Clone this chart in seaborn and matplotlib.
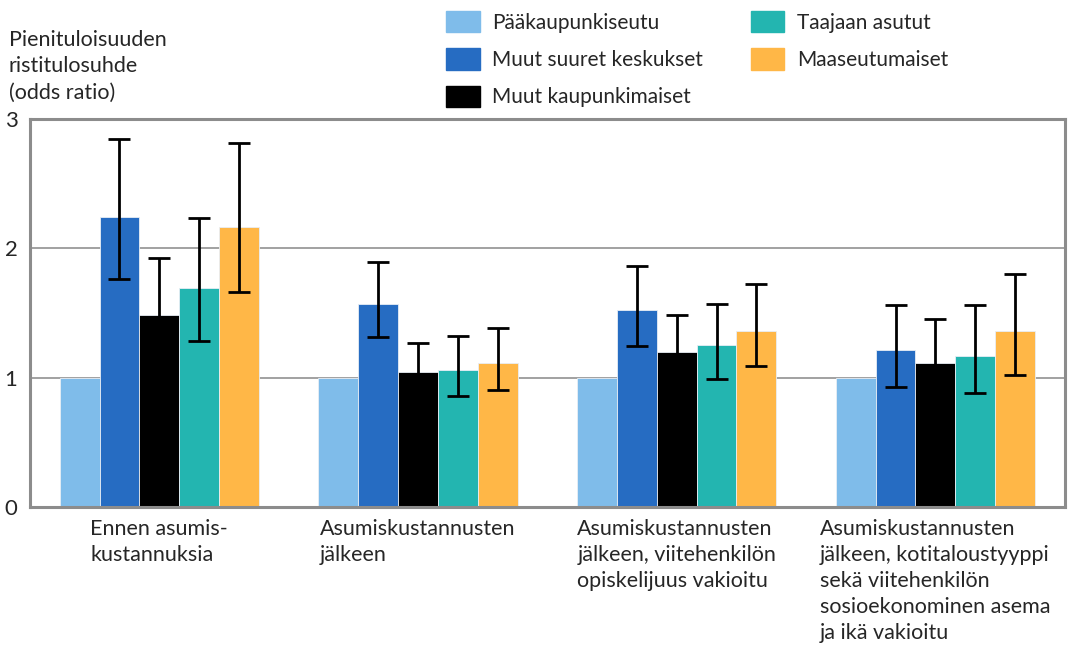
import pandas as pd
import numpy as np
import matplotlib
matplotlib.use("Agg")
import matplotlib.pyplot as plt
import seaborn as sns

sns.set_style("white")
plt.rcParams['font.family'] = ['Lato', 'DejaVu Sans']

# Ryhmät (x-akseli) ja sarjat
ryhmat = [
    "Ennen asumis-\nkustannuksia",
    "Asumiskustannusten\njälkeen",
    "Asumiskustannusten\njälkeen, viitehenkilön\nopiskelijuus vakioitu",
    "Asumiskustannusten\njälkeen, kotitaloustyyppi\nsekä viitehenkilön\nsosioekonominen asema\nja ikä vakioitu",
]
alueet = ["Pääkaupunkiseutu", "Muut suuret keskukset", "Muut kaupunkimaiset",
          "Taajaan asutut", "Maaseutumaiset"]
varit = ["#7fbcea", "#266cc2", "#000000", "#23b5b0", "#ffb747"]

# Ristitulosuhteet (odds ratio) per alue
or_pk = [1.0, 1.0, 1.0, 1.0]
or_suuret = [2.24, 1.57, 1.52, 1.21]
or_kaupunki = [1.48, 1.04, 1.20, 1.11]
or_taajaan = [1.69, 1.06, 1.25, 1.17]
or_maaseutu = [2.16, 1.11, 1.36, 1.36]

# Luottamusvälit (ala, ylä); pääkaupunkiseutu on vertailuryhmä
ala_suuret = [1.76, 1.31, 1.24, 0.93]
yla_suuret = [2.84, 1.89, 1.86, 1.56]
ala_kaupunki = [1.15, 0.86, 0.97, 0.85]
yla_kaupunki = [1.92, 1.27, 1.48, 1.45]
ala_taajaan = [1.28, 0.86, 0.99, 0.88]
yla_taajaan = [2.23, 1.32, 1.57, 1.56]
ala_maaseutu = [1.66, 0.90, 1.09, 1.02]
yla_maaseutu = [2.81, 1.38, 1.72, 1.80]

arvot = [or_pk, or_suuret, or_kaupunki, or_taajaan, or_maaseutu]
alat = [None, ala_suuret, ala_kaupunki, ala_taajaan, ala_maaseutu]
ylat = [None, yla_suuret, yla_kaupunki, yla_taajaan, yla_maaseutu]

df = pd.DataFrame([
    {"ryhma": r, "alue": a, "or": v}
    for a, vals in zip(alueet, arvot)
    for r, v in zip(ryhmat, vals)
])

fig = plt.figure(figsize=(10.69, 6.45), dpi=100)
ax = fig.add_axes([0.028, 0.214, 0.968, 0.602])

sns.barplot(data=df, x="ryhma", y="or", hue="alue", order=ryhmat,
            hue_order=alueet, palette=varit, width=0.77, errorbar=None,
            linewidth=0.6, edgecolor="#e8eef5", saturation=1, ax=ax, zorder=2)

# Virhepalkit
for cont, lo, hi, vals in zip(ax.containers, alat, ylat, arvot):
    if lo is None:
        continue
    xs = [p.get_x() + p.get_width() / 2 for p in cont.patches]
    vals = np.array(vals)
    yerr = [vals - np.array(lo), np.array(hi) - vals]
    ax.errorbar(xs, vals, yerr=yerr, fmt="none", ecolor="black",
                elinewidth=2, capsize=8, capthick=2, zorder=3)

ax.set_ylim(0, 3)
ax.set_xlim(-0.5, 3.5)
ax.set_yticks([0, 1, 2, 3])
ax.yaxis.grid(True, color="#9a9a9a", linewidth=1.3, zorder=0)
ax.set_axisbelow(True)
for s in ax.spines.values():
    s.set_color("#8c8c8c")
    s.set_linewidth(2.2)
ax.tick_params(axis="y", length=0, pad=9, labelsize=16)
ax.tick_params(axis="x", length=0, pad=9, labelsize=15.5)
for lab in ax.get_xticklabels():
    lab.set_multialignment("left")
    lab.set_verticalalignment("top")
    lab.set_linespacing(1.36)
ax.set_xlabel("")
ax.set_ylabel("")

fig.text(0.008, 0.953, "Pienituloisuuden\nristitulosuhde\n(odds ratio)",
         fontsize=15.5, ha="left", va="top", linespacing=1.38)

ax.legend_.remove()
handles = [plt.Rectangle((0, 0), 1, 1, color=c) for c in varit]
fig.legend(handles, alueet, loc="upper left", bbox_to_anchor=(0.40, 1.012),
           ncol=2, frameon=False, fontsize=15, handlelength=1.6,
           handleheight=1.2, handletextpad=0.6, columnspacing=2.3,
           labelspacing=0.75)

fig.savefig("out.png", dpi=100)
